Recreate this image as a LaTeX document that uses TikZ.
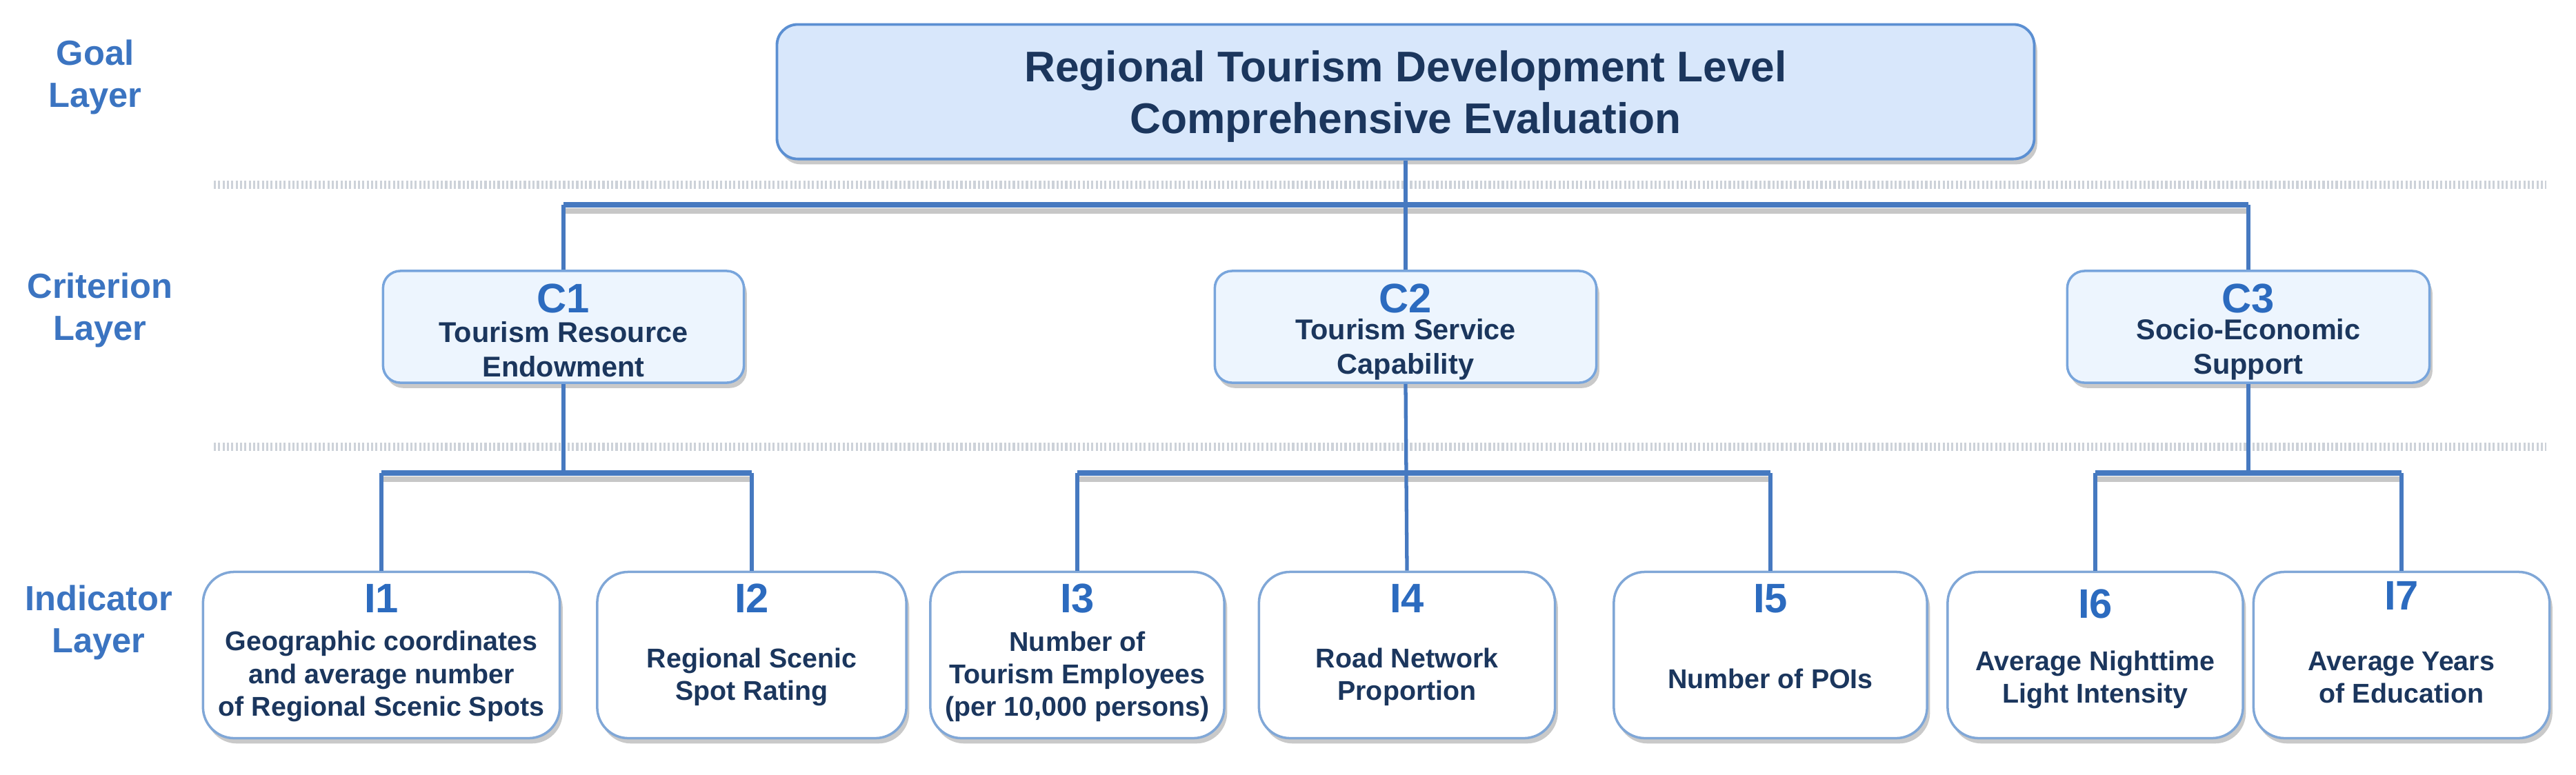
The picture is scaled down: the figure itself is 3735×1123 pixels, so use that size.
\documentclass[tikz,border=0pt]{standalone}
\usepackage{fontspec}
\setmainfont{Liberation Sans}
\usetikzlibrary{shadows}
\definecolor{layerblue}{HTML}{3B74C1}
\definecolor{labblue}{HTML}{2C6BBF}
\definecolor{darktext}{HTML}{1B365D}
\definecolor{goalfill}{HTML}{D8E7FB}
\definecolor{goalborder}{HTML}{5B8FD2}
\definecolor{cfill}{HTML}{EDF5FE}
\definecolor{cborder}{HTML}{78A5DC}
\definecolor{iborder}{HTML}{80A7D7}
\definecolor{linkblue}{HTML}{4679C0}
\definecolor{sepgray}{HTML}{CDD2D9}
\tikzset{
  boxshadow/.style={drop shadow={shadow xshift=1.2pt, shadow yshift=-2.2pt, opacity=0.35, fill=black!60}},
  goalbox/.style={draw=goalborder, fill=goalfill, line width=1.1pt, rounded corners=0.3cm,
    minimum width=18.22cm, minimum height=1.95cm, boxshadow},
  cbox/.style={draw=cborder, fill=cfill, line width=1pt, rounded corners=0.25cm,
    minimum height=1.62cm, boxshadow},
  ibox/.style={draw=iborder, fill=white, line width=1pt, rounded corners=0.45cm,
    minimum height=2.41cm, boxshadow},
  goaltext/.style={align=center, text=darktext, font=\bfseries\fontsize{17.7}{21.5}\selectfont},
  layerlab/.style={align=center, text=layerblue, font=\bfseries\fontsize{14.4}{17.2}\selectfont},
  clabel/.style={text=labblue, font=\bfseries\fontsize{17}{17}\selectfont},
  ctext/.style={align=center, text=darktext, font=\bfseries\fontsize{11.8}{14.2}\selectfont},
  ilabel/.style={text=labblue, font=\bfseries\fontsize{17}{17}\selectfont},
  itext/.style={align=center, text=darktext, font=\bfseries\fontsize{11.2}{13.4}\selectfont},
  sepline/.style={draw=sepgray, line width=3.4pt, dash pattern=on 0.9pt off 0.9pt},
  stem/.style={draw=linkblue, line width=1.5pt},
  bar/.style={draw=linkblue, line width=2.1pt},
  barshadow/.style={draw=black!22, line width=2.4pt, transform canvas={yshift=-2.6pt}},
}
\begin{document}
\begin{tikzpicture}[x=0.01cm, y=-0.01cm]
\useasboundingbox[fill=white] (0,0) rectangle (3735,1123);

% separators
\draw[sepline] (310,268) -- (3692,268);
\draw[sepline] (310,648) -- (3692,648);

% layer labels
\node[layerlab] (lgoal) at (138,112) {Goal\\Layer};
\node[layerlab] (lcrit) at (145,450) {Criterion\\Layer};
\node[layerlab] (lind) at (143,903) {Indicator\\Layer};

% boxes
\node[goalbox] (goal) at (2038,133) {};
\node[cbox, minimum width=5.23cm] (c1) at (817,474) {};
\node[cbox, minimum width=5.53cm] (c2) at (2038,474) {};
\node[cbox, minimum width=5.25cm] (c3) at (3260,474) {};

\node[ibox, minimum width=5.17cm] (i1) at (553,950) {};
\node[ibox, minimum width=4.48cm] (i2) at (1090,950) {};
\node[ibox, minimum width=4.26cm] (i3) at (1562,950) {};
\node[ibox, minimum width=4.29cm] (i4) at (2040,950) {};
\node[ibox, minimum width=4.54cm] (i5) at (2567,950) {};
\node[ibox, minimum width=4.28cm] (i6) at (3038,950) {};
\node[ibox, minimum width=4.29cm] (i7) at (3482,950) {};

% junction coordinates
\coordinate (j0) at (2038,297);
\coordinate (j1) at (817,686);
\coordinate (j2) at (2038,686);
\coordinate (j3) at (3260,686);

% connectors: goal -> criteria
\draw[barshadow] (c1.north |- j0) -- (c3.north |- j0);
\draw[stem] (goal.south) -- (c2.north);
\draw[stem] (c1.north |- j0) -- (c1.north);
\draw[stem] (c3.north |- j0) -- (c3.north);
\draw[bar] (c1.north |- j0) -- (c3.north |- j0);

% C1 -> I1, I2
\draw[barshadow] (i1.north |- j1) -- (i2.north |- j1);
\draw[stem] (c1.south) -- (j1);
\draw[stem] (i1.north |- j1) -- (i1.north);
\draw[stem] (i2.north |- j1) -- (i2.north);
\draw[bar] (i1.north |- j1) -- (i2.north |- j1);

% C2 -> I3, I4, I5
\draw[barshadow] (i3.north |- j2) -- (i5.north |- j2);
\draw[stem] (c2.south) -- (i4.north);
\draw[stem] (i3.north |- j2) -- (i3.north);
\draw[stem] (i5.north |- j2) -- (i5.north);
\draw[bar] (i3.north |- j2) -- (i5.north |- j2);

% C3 -> I6, I7
\draw[barshadow] (i6.north |- j3) -- (i7.north |- j3);
\draw[stem] (c3.south) -- (j3);
\draw[stem] (i6.north |- j3) -- (i6.north);
\draw[stem] (i7.north |- j3) -- (i7.north);
\draw[bar] (i6.north |- j3) -- (i7.north |- j3);

% texts
\node[goaltext] (goalt) at (2038,140) {Regional Tourism Development Level\\Comprehensive Evaluation};

\node[clabel] (c1l) at (817,433) {C1};
\node[ctext] (c1t) at (817,507) {Tourism Resource\\Endowment};
\node[clabel] (c2l) at (2038,433) {C2};
\node[ctext] (c2t) at (2038,507) {Tourism Service\\Capability};
\node[clabel] (c3l) at (3260,433) {C3};
\node[ctext] (c3t) at (3260,507) {Socio-Economic\\Support};

\node[ilabel] (i1l) at (553,868) {I1};
\node[itext] (i1t) at (553,981) {Geographic coordinates\\and average number\\of Regional Scenic Spots};
\node[ilabel] (i2l) at (1090,868) {I2};
\node[itext] (i2t) at (1090,982) {Regional Scenic\\Spot Rating};
\node[ilabel] (i3l) at (1562,868) {I3};
\node[itext] (i3t) at (1562,981) {Number of\\Tourism Employees\\(per 10,000 persons)};
\node[ilabel] (i4l) at (2040,868) {I4};
\node[itext] (i4t) at (2040,982) {Road Network\\Proportion};
\node[ilabel] (i5l) at (2567,868) {I5};
\node[itext] (i5t) at (2567,984) {Number of POIs};
\node[ilabel] (i6l) at (3038,876) {I6};
\node[itext] (i6t) at (3038,986) {Average Nighttime\\Light Intensity};
\node[ilabel] (i7l) at (3482,864) {I7};
\node[itext] (i7t) at (3482,983) {Average Years\\of Education};
\end{tikzpicture}
\end{document}
